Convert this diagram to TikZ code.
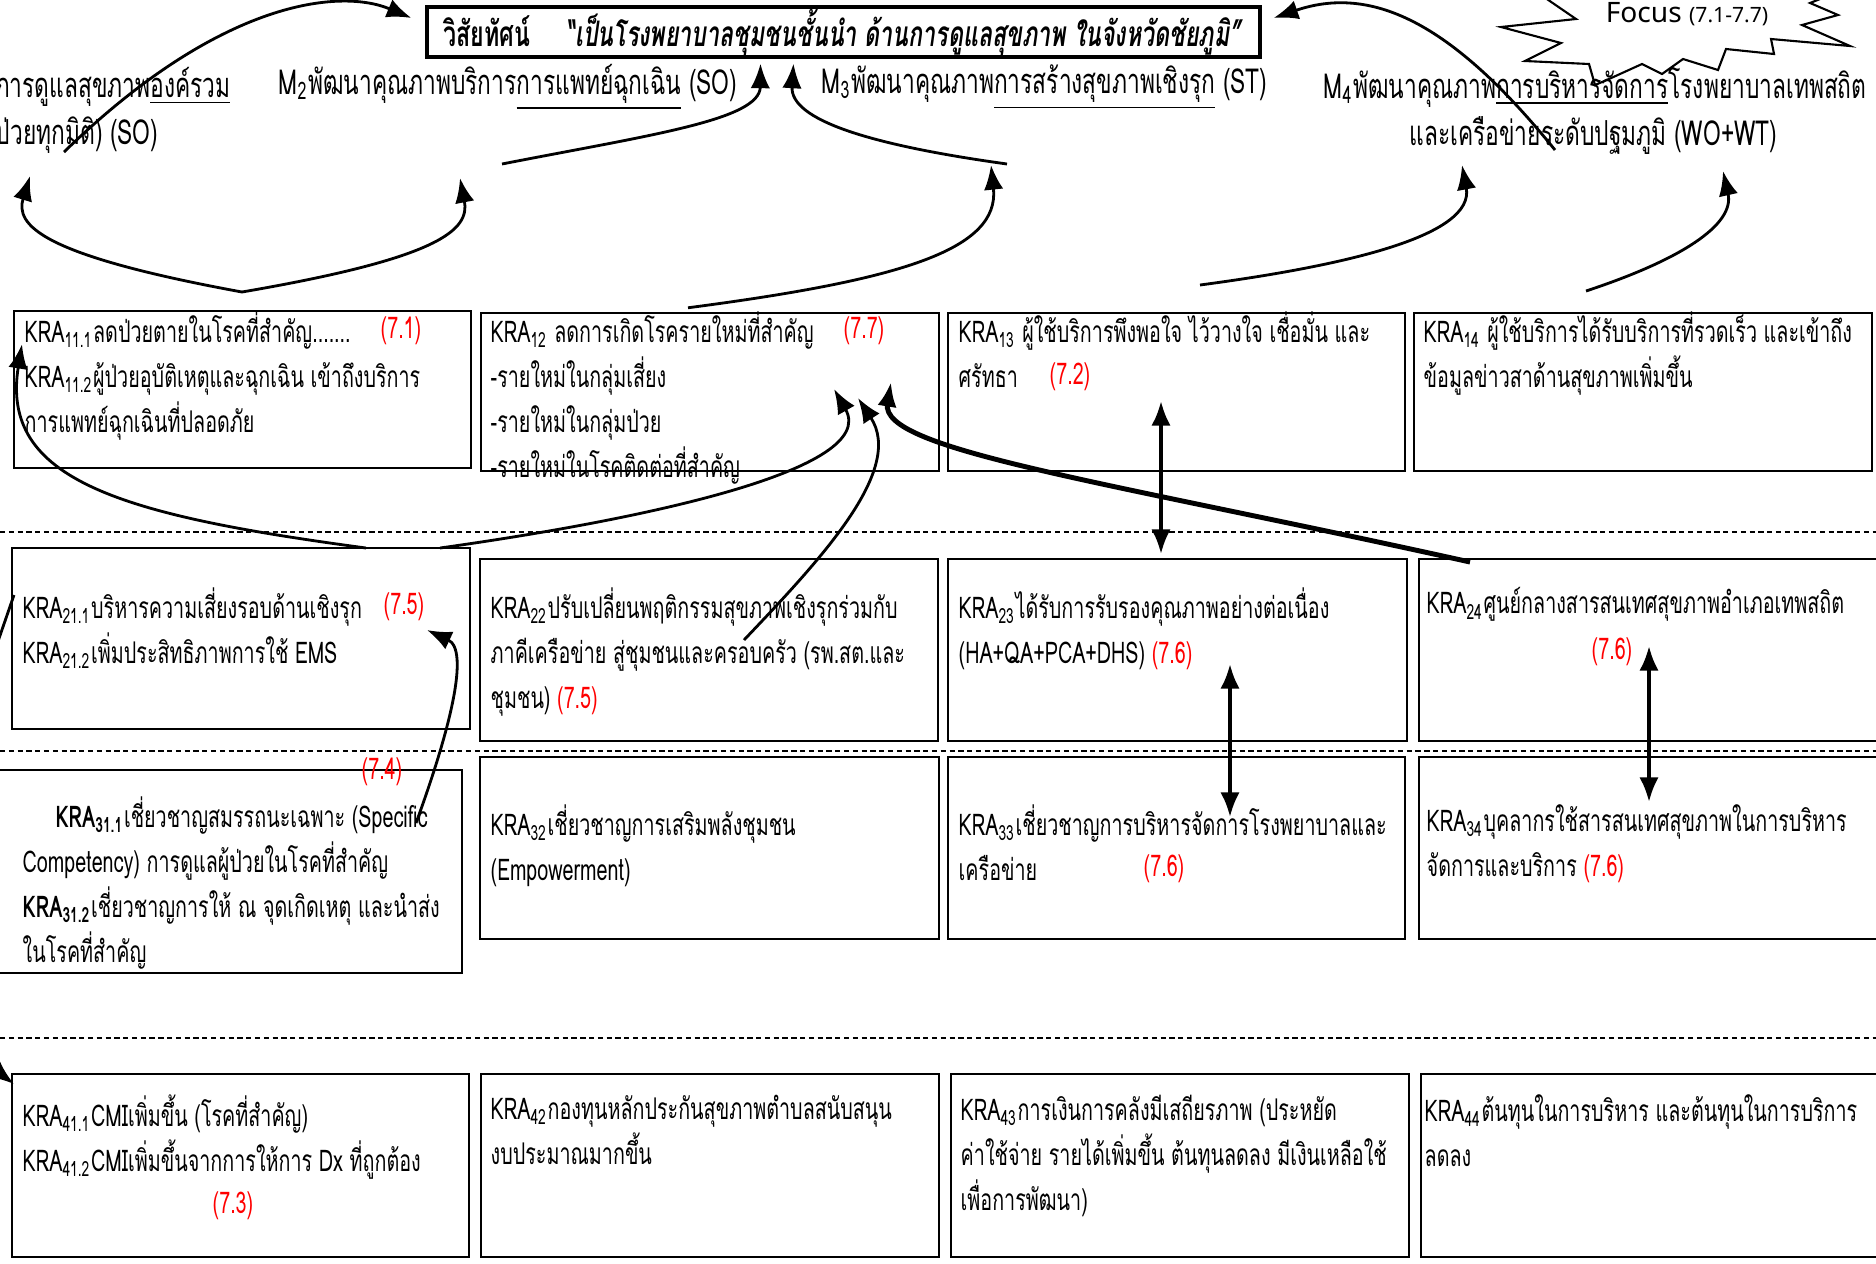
\documentclass[tikz,border=0pt]{standalone}
\usepackage{fontspec}
\setmainfont[Script=Thai,FakeStretch=0.66]{Loma}
\newfontfamily\focusfont{Noto Sans}
\usetikzlibrary{arrows.meta,positioning,fit,calc}
\setlength\lineskiplimit{-20pt}
\def\kra#1{KRA\textsubscript{#1}}
\def\rnum#1{\textcolor{red}{(#1)}}

\begin{document}
\begin{tikzpicture}[x=0.01cm,y=-0.01cm,
  kbox/.style={draw,line width=0.7pt,inner sep=0pt},
  ktxt/.style={anchor=north west,align=left,inner sep=0pt,font=\fontsize{8.5}{12.8}\selectfont},
  mtxt/.style={inner sep=0pt,font=\fontsize{9.8}{13.5}\selectfont},
  rlab/.style={text=red,inner sep=0pt,font=\fontsize{8.5}{12.8}\selectfont},
  arr/.style={thick,-{Latex[length=7pt,width=5.5pt]}},
  darr/.style={line width=1.1pt,{Latex[length=7pt,width=5.5pt]}-{Latex[length=7pt,width=5.5pt]}},
  sep/.style={line width=0.4pt,dash pattern=on 1.5pt off 1pt}]
  \useasboundingbox (0,0) rectangle (1876,1263);
  \clip (0,0) rectangle (1876,1263);

  % vision and focus
  \node[draw,line width=0.9pt,inner sep=0pt,fit={(427,7) (1260,57)}] (vision) {};
  \node[font=\fontsize{10}{12}\selectfont\bfseries] at (vision.center) (vtext)
    {วิสัยทัศน์\quad\textit{“เป็นโรงพยาบาลชุมชนชั้นนำ ด้านการดูแลสุขภาพ ในจังหวัดชัยภูมิ”}};
  \draw[line width=0.6pt] (1541,-5)--(1576,19)--(1501,27)--(1561,43)--(1525,61)--(1589,64)
    --(1595,85)--(1609,79)--(1642,64)--(1662,74)--(1683,59)--(1718,70)--(1726,49)--(1774,54)
    --(1771,39)--(1850,46)--(1802,25)--(1838,15)--(1810,3)--(1830,-5);
  \node at (1687,14) (focus) {\focusfont\fontsize{8}{10}\selectfont Focus {\fontsize{6}{8}\selectfont(7.1-7.7)}};

  % missions
  \node[mtxt,anchor=east] (m1a) at (231,87) {การดูแลสุขภาพ\underline{องค์รวม}};
  \node[mtxt,anchor=east] (m1b) at (159,135) {ป่วยทุกมิติ) (SO)};
  \node[mtxt,anchor=west] (m2) at (278,87) {M\textsubscript{2}พัฒนาคุณภาพบริการ\underline{การแพทย์ฉุกเฉิน} (SO)};
  \node[mtxt,anchor=west] (m3) at (821,87) {M\textsubscript{3}พัฒนาคุณภาพ\underline{การสร้างสุขภาพเชิงรุก} (ST)};
  \node[mtxt,anchor=west] (m4a) at (1323,87) {M\textsubscript{4}พัฒนาคุณภาพ\underline{การบริหารจัดการ}โรงพยาบาลเทพสถิต};
  \node[mtxt,anchor=west] (m4b) at (1409,135) {และเครือข่ายระดับปฐมภูมิ (WO+WT)};

  % level lines
  \draw[sep] (0,532)--(1876,532);
  \draw[sep] (0,751)--(1876,751);
  \draw[sep] (0,1038)--(1876,1038);

  % row 1
  \node[kbox,fit={(14,311) (471,468)}] (b11) {};
  \node[kbox,fit={(481,313) (939,471)}] (b12) {};
  \node[kbox,fit={(948,313) (1405,471)}] (b13) {};
  \node[kbox,fit={(1414,313) (1872,471)}] (b14) {};
  \node[ktxt] (t11) at (24,311) {\kra{11.1}ลดป่วยตายในโรคที่สำคัญ.......\\
    \kra{11.2}ผู้ป่วยอุบัติเหตุและฉุกเฉิน เข้าถึงบริการ\\
    การแพทย์ฉุกเฉินที่ปลอดภัย};
  \node[rlab] (r11) at (401,331) {(7.1)};
  \node[ktxt] (t12) at (490,311) {\kra{12} ลดการเกิดโรครายใหม่ที่สำคัญ\\
    -รายใหม่ในกลุ่มเสี่ยง\\ -รายใหม่ในกลุ่มป่วย\\ -รายใหม่ในโรคติดต่อที่สำคัญ};
  \node[rlab] (r12) at (864,331) {(7.7)};
  \node[ktxt] (t13) at (958,311) {\kra{13} ผู้ใช้บริการพึงพอใจ ไว้วางใจ เชื่อมั่น และ\\ ศรัทธา};
  \node[rlab] (r13) at (1070,377) {(7.2)};
  \node[ktxt] (t14) at (1423,311) {\kra{14} ผู้ใช้บริการได้รับบริการที่รวดเร็ว และเข้าถึง\\
    ข้อมูลข่าวสาด้านสุขภาพเพิ่มขึ้น};

  % row 2
  \node[kbox,fit={(12,548) (470,729)}] (b21) {};
  \node[kbox,fit={(480,559) (938,741)}] (b22) {};
  \node[kbox,fit={(948,559) (1407,741)}] (b23) {};
  \node[kbox,fit={(1419,559) (1880,741)}] (b24) {};
  \node[ktxt] (t21) at (22,587) {\kra{21.1}บริหารความเสี่ยงรอบด้านเชิงรุก\\ \kra{21.2}เพิ่มประสิทธิภาพการใช้ EMS};
  \node[rlab] (r21) at (404,607) {(7.5)};
  \node[ktxt] (t22) at (490,587) {\kra{22}ปรับเปลี่ยนพฤติกรรมสุขภาพเชิงรุกร่วมกับ\\
    ภาคีเครือข่าย สู่ชุมชนและครอบครัว (รพ.สต.และ\\ ชุมชน) \rnum{7.5}};
  \node[ktxt] (t23) at (958,587) {\kra{23}ได้รับการรับรองคุณภาพอย่างต่อเนื่อง\\ (HA+QA+PCA+DHS) \rnum{7.6}};
  \node[ktxt] (t24) at (1426,587) {\kra{24}ศูนย์กลางสารสนเทศสุขภาพอำเภอเทพสถิต};
  \node[rlab] (r24) at (1612,652) {(7.6)};

  % row 3
  \node[kbox,fit={(-5,770) (462,973)}] (b31) {};
  \node[kbox,fit={(480,757) (939,939)}] (b32) {};
  \node[kbox,fit={(948,757) (1405,939)}] (b33) {};
  \node[kbox,fit={(1419,757) (1880,939)}] (b34) {};
  \node[rlab] (r31) at (382,772) {(7.4)};
  \node[ktxt] (t31) at (22,796) {\hspace*{1.1em}\textbf{\kra{31.1}}เชี่ยวชาญสมรรถนะเฉพาะ (Specific\\
    Competency) การดูแลผู้ป่วยในโรคที่สำคัญ\\
    \textbf{\kra{31.2}}เชี่ยวชาญการให้ ณ จุดเกิดเหตุ และนำส่ง\\ ในโรคที่สำคัญ};
  \node[ktxt] (t32) at (490,804) {\kra{32}เชี่ยวชาญการเสริมพลังชุมชน\\ (Empowerment)};
  \node[ktxt] (t33) at (958,804) {\kra{33}เชี่ยวชาญการบริหารจัดการโรงพยาบาลและ\\ เครือข่าย};
  \node[rlab] (r33) at (1164,869) {(7.6)};
  \node[ktxt] (t34) at (1426,804) {\kra{34}บุคลากรใช้สารสนเทศสุขภาพในการบริหาร\\ จัดการและบริการ \rnum{7.6}};

  % row 4
  \node[kbox,fit={(12,1074) (469,1257)}] (b41) {};
  \node[kbox,fit={(481,1074) (939,1257)}] (b42) {};
  \node[kbox,fit={(951,1074) (1409,1257)}] (b43) {};
  \node[kbox,fit={(1421,1074) (1880,1257)}] (b44) {};
  \node[ktxt] (t41) at (22,1094) {\kra{41.1}CMIเพิ่มขึ้น (โรคที่สำคัญ)\\ \kra{41.2}CMIเพิ่มขึ้นจากการให้การ Dx ที่ถูกต้อง};
  \node[rlab] (r41) at (233,1206) {(7.3)};
  \node[ktxt] (t42) at (490,1094) {\kra{42}กองทุนหลักประกันสุขภาพตำบลสนับสนุน\\ งบประมาณมากขึ้น};
  \node[ktxt] (t43) at (960,1094) {\kra{43}การเงินการคลังมีเสถียรภาพ (ประหยัด\\
    ค่าใช้จ่าย รายได้เพิ่มขึ้น ต้นทุนลดลง มีเงินเหลือใช้\\ เพื่อการพัฒนา)};
  \node[ktxt] (t44) at (1424,1094) {\kra{44}ต้นทุนในการบริหาร และต้นทุนในการบริการ\\ ลดลง};

  % free ends of the connectors
  \coordinate (s1) at (64,152);
  \coordinate (s2) at (502,164);
  \coordinate (s3) at (1007,164);
  \coordinate (s4) at (1555,150);
  \coordinate (v11) at (242,292);
  \coordinate (e1) at (30,176);
  \coordinate (e2) at (460,178);
  \coordinate (e3) at (991,165);
  \coordinate (v13) at (1200,285);
  \coordinate (e4) at (1462,165);
  \coordinate (v14) at (1586,291);
  \coordinate (e5) at (1723,171);

  % arrows up to the vision
  \draw[arr] (s1) .. controls (220,0) and (340,-12) .. ($(vision.west)+(-14,-14)$);
  \draw[arr] (s2) .. controls (650,135) and (760,120) .. ($(vision.south)+(-83,5)$);
  \draw[arr] (s3) .. controls (870,145) and (790,120) .. ($(vision.south)+(-50,5)$);
  \draw[arr] (s4) .. controls (1450,20) and (1370,-15) .. ($(vision.east)+(12,-14)$);
  % arrows up to the missions
  \draw[arr] (v11) .. controls (40,255) and (15,225) .. (e1);
  \draw[arr] (v11) .. controls (440,258) and (470,230) .. (e2);
  \draw[arr] (b12.north)++(-22,-4) coordinate (s12) (s12) .. controls (900,280) and (1000,250) .. (e3);
  \draw[arr] (v13) .. controls (1350,265) and (1475,235) .. (e4);
  \draw[arr] (v14) .. controls (1680,260) and (1735,225) .. (e5);
  % arrows between the levels
  \draw[arr] (366,548) .. controls (120,515) and (0,480) .. (22,344);
  \draw[arr] (440,548) .. controls (640,520) and (880,470) .. (834,389);
  \draw[arr] (744,640) .. controls (820,560) and (905,470) .. (858,398);
  \draw[line width=1.4pt,-{Latex[length=7pt,width=5.5pt]}] (1470,562) .. controls (1100,480) and (880,450) .. (891,382);
  \draw[arr] (416,823) .. controls (450,730) and (470,650) .. (427,630);
  \draw[darr] (1161,401) -- (1161,554);
  \draw[darr] (1230,664) -- (1230,817);
  \draw[darr] (1649,646) -- (1649,802);
  % cut ends on the left margin
  \draw[thick] (14,595) -- (-5,650);
  \draw[arr] (-10,1066) -- (14,1084);
\end{tikzpicture}
\end{document}
